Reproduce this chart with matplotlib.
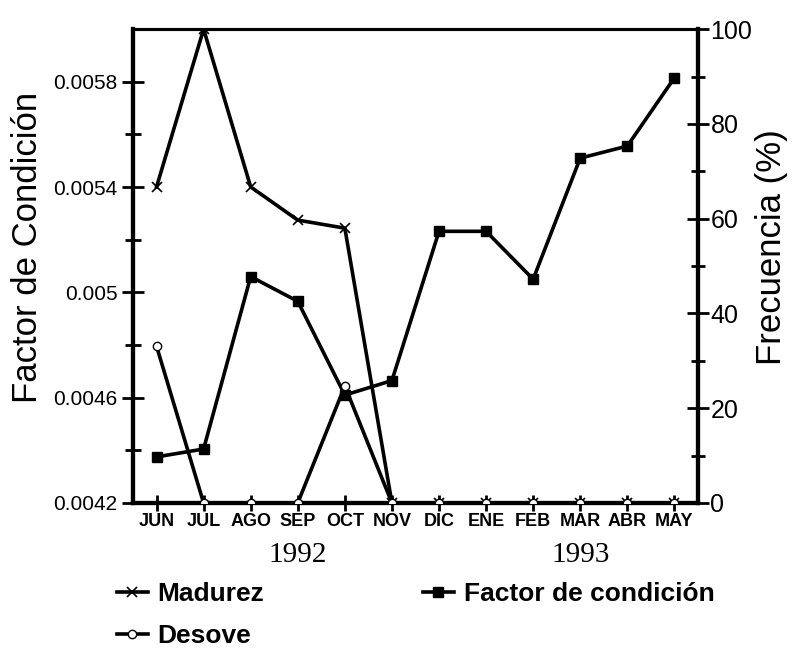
import matplotlib
matplotlib.use("Agg")
import matplotlib.pyplot as plt
from matplotlib.ticker import MultipleLocator, FixedLocator

months = ["JUN", "JUL", "AGO", "SEP", "OCT", "NOV", "DIC", "ENE", "FEB", "MAR", "ABR", "MAY"]
madurez = [66.7, 100, 66.7, 59.7, 58, 0, 0, 0, 0, 0, 0, 0]
desove = [33.1, 0, 0, 0, 24.7, 0, 0, 0, 0, 0, 0, 0]
factor = [0.004375, 0.004405, 0.00506, 0.004966, 0.00461, 0.004665,
          0.005232, 0.005232, 0.00505, 0.00551, 0.005556, 0.005815]
years = ["1992", "1993"]
year_pos = [3, 9]

plt.rcParams['font.family'] = ['Liberation Sans', 'DejaVu Sans']

fig = plt.figure(figsize=(7.94, 6.48), dpi=100)
ax = fig.add_axes([0.1675, 0.2238, 0.7115, 0.7312])
ax2 = ax.twinx()

x = list(range(len(months)))

l_fac, = ax.plot(x, factor, color='black', lw=2.6, marker='s', ms=6.5,
                 label='Factor de condición', zorder=3)
l_mad, = ax2.plot(x, madurez, color='black', lw=2.6, marker='x', ms=7, mew=1.2,
                  label='Madurez', zorder=3)
l_des, = ax2.plot(x, desove, color='black', lw=2.6, marker='o', ms=6,
                  mfc='white', mew=1.0, label='Desove', zorder=3)

ax.set_xlim(-0.5, 11.5)
ax.set_ylim(0.0042, 0.0060)
ax2.set_ylim(0, 100)

ax.yaxis.set_major_locator(FixedLocator([0.0042, 0.0046, 0.005, 0.0054, 0.0058]))
ax.yaxis.set_minor_locator(FixedLocator([0.0044, 0.0048, 0.0052, 0.0056]))
ax.set_yticklabels(["0.0042", "0.0046", "0.005", "0.0054", "0.0058"], fontsize=15)
ax2.yaxis.set_major_locator(MultipleLocator(20))
ax2.yaxis.set_minor_locator(MultipleLocator(10))
ax2.tick_params(axis='y', which='major', labelsize=18, direction='inout',
                length=16, width=2, pad=1)
ax2.tick_params(axis='y', which='minor', direction='inout', length=10, width=2)
ax.tick_params(axis='y', which='major', direction='inout', length=16, width=2, pad=3)
ax.tick_params(axis='y', which='minor', direction='inout', length=12, width=2)

ax.set_xticks(x)
ax.set_xticklabels(months, fontsize=13, fontweight='bold')
ax.tick_params(axis='x', direction='inout', length=12, width=2, pad=1)

for sp in ['left', 'right', 'bottom']:
    ax.spines[sp].set_linewidth(3)
    ax2.spines[sp].set_linewidth(3)
ax.spines['top'].set_linewidth(2.2)
ax2.spines['top'].set_linewidth(2.2)

ax.set_ylabel("Factor de Condición", fontsize=25, va='center')
ax.yaxis.set_label_coords(-0.187, 0.54)
ax2.set_ylabel("Frecuencia (%)", fontsize=25, va='center')
ax2.yaxis.set_label_coords(1.131, 0.54)

for yr, pos in zip(years, year_pos):
    ax.text(pos, -0.11, yr, transform=ax.get_xaxis_transform(), ha='center',
            va='center', fontsize=21, family=['Liberation Serif', 'DejaVu Serif'])

leg = fig.legend([l_mad, l_des, l_fac], ["Madurez", "Desove", "Factor de condición"],
                 ncol=2, loc='upper left', bbox_to_anchor=(0.147, 0.102),
                 frameon=False, handlelength=1.17, handletextpad=0.38,
                 columnspacing=6.0, labelspacing=0.68, borderpad=0, borderaxespad=0,
                 prop={'size': 19, 'weight': 'bold'})

fig.savefig("out.png", dpi=100)
